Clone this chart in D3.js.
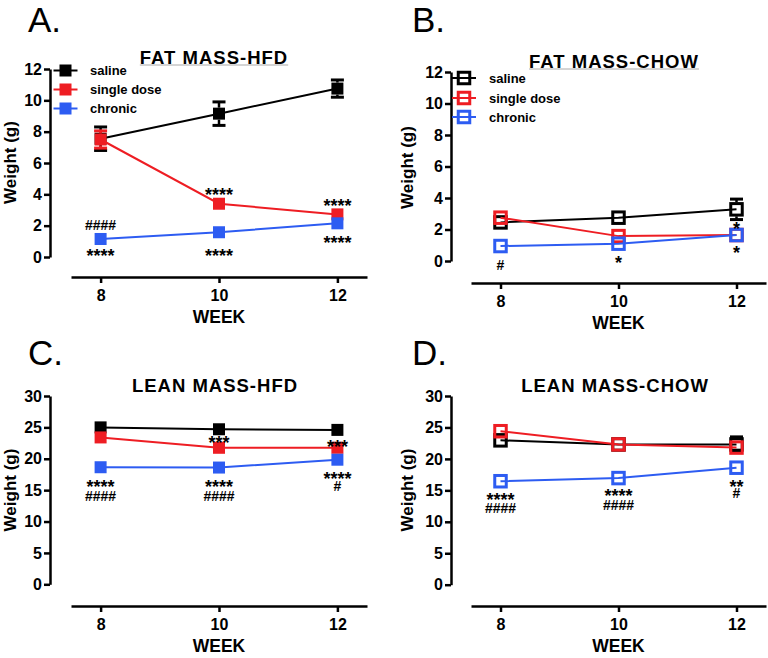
<!DOCTYPE html>
<html><head><meta charset="utf-8">
<script src="https://cdn.jsdelivr.net/npm/d3@7"></script>
<style>body{margin:0;background:#fff}svg{display:block}</style>
</head><body><svg id="c" width="768" height="658"></svg>
<script>
// ---------- DATA ----------
const weeks = [8, 10, 12];
const seriesNames = ["saline", "single dose", "chronic"];
const seriesColors = ["#000000", "#ee1d23", "#2d5cf2"];
const fatTicks = [0, 2, 4, 6, 8, 10, 12];
const leanTicks = [0, 5, 10, 15, 20, 25, 30];
const panelLetters = ["A.", "B.", "C.", "D."];
const panelTitles = ["FAT MASS-HFD", "FAT MASS-CHOW", "LEAN MASS-HFD", "LEAN MASS-CHOW"];
const xLabel = "WEEK";
const yLabel = "Weight (g)";

// A: fat mass, HFD
const fatHfdSaline = [7.55, 9.15, 10.75];
const fatHfdSingle = [7.5, 3.4, 2.72];
const fatHfdChronic = [1.15, 1.58, 2.15];
const fatHfdSalineErr = [0.75, 0.75, 0.55];
const fatHfdSingleErr = [0.55, 0.25, 0.2];
const fatHfdChronicErr = [0.15, 0.15, 0.2];
const fatHfdMarks = [[8, 2.04, "####"], [8, 0.34, "****"], [10, 4.21, "****"], [10, 0.34, "****"], [12, 3.51, "****"], [12, 1.15, "****"]];

// B: fat mass, chow
const fatChowSaline = [2.45, 2.75, 3.28];
const fatChowSingle = [2.75, 1.58, 1.65];
const fatChowChronic = [0.95, 1.1, 1.65];
const fatChowSalineErr = [0.3, 0.3, 0.65];
const fatChowSingleErr = [0.3, 0.2, 0.2];
const fatChowChronicErr = [0.15, 0.2, 0.2];
const fatChowMarks = [[8, -0.25, "#"], [10, 0.13, "*"], [12, 2.29, "*"], [12, 0.76, "*"]];

// C: lean mass, HFD
const leanHfdSaline = [25.0, 24.7, 24.6];
const leanHfdSingle = [23.4, 21.75, 21.75];
const leanHfdChronic = [18.65, 18.6, 19.85];
const leanHfdSalineErr = [0.4, 0.5, 0.5];
const leanHfdSingleErr = [0.6, 0.6, 0.6];
const leanHfdChronicErr = [0.5, 0.5, 0.8];
const leanHfdMarks = [[8, 16.2, "****"], [8, 14.06, "####"], [10, 23.1, "***"], [10, 16.2, "****"], [10, 14.06, "####"], [12, 22.5, "***"], [12, 17.4, "****"], [12, 15.7, "#"]];

// D: lean mass, chow
const leanChowSaline = [22.95, 22.3, 22.3];
const leanChowSingle = [24.4, 22.3, 21.8];
const leanChowChronic = [16.45, 16.95, 18.6];
const leanChowSalineErr = [0.5, 0.4, 1.2];
const leanChowSingleErr = [0.6, 0.5, 0.6];
const leanChowChronicErr = [0.5, 0.5, 0.6];
const leanChowMarks = [[8, 14.15, "****"], [8, 12.2, "####"], [10, 14.8, "****"], [10, 12.67, "####"], [12, 16.2, "**"], [12, 14.6, "#"]];

// ---------- LAYOUT ----------
const FONT = "'Liberation Sans', Arial, Helvetica, sans-serif";
const panels = [
  {letter: panelLetters[0], lx: 28, ly: 32, title: panelTitles[0], tx: 214, ty: 64, underline: true,
   ax: 50, yb: 257, yt: 69, ymax: 12, ticks: fatTicks, x0: 71, x1: 367, xay: 277, ylx: 15.5, yly: 162.5, open: false,
   legend: {mx: 65.5, ys: [70.5, 89.5, 108.5], tx: 90},
   values: [fatHfdSaline, fatHfdSingle, fatHfdChronic], errs: [fatHfdSalineErr, fatHfdSingleErr, fatHfdChronicErr], marks: fatHfdMarks},
  {letter: panelLetters[1], lx: 412, ly: 32, title: panelTitles[1], tx: 614, ty: 68, underline: true,
   ax: 451, yb: 261, yt: 72, ymax: 12, ticks: fatTicks, x0: 471, x1: 766, xay: 283, ylx: 412.5, yly: 167.5, open: true,
   legend: {mx: 464, ys: [78, 98, 117], tx: 489},
   values: [fatChowSaline, fatChowSingle, fatChowChronic], errs: [fatChowSalineErr, fatChowSingleErr, fatChowChronicErr], marks: fatChowMarks},
  {letter: panelLetters[2], lx: 28, ly: 365, title: panelTitles[2], tx: 215, ty: 392, underline: false,
   ax: 50, yb: 584.3, yt: 396, ymax: 30, ticks: leanTicks, x0: 71, x1: 367, xay: 606, ylx: 15.5, yly: 490, open: false,
   legend: null,
   values: [leanHfdSaline, leanHfdSingle, leanHfdChronic], errs: [leanHfdSalineErr, leanHfdSingleErr, leanHfdChronicErr], marks: leanHfdMarks},
  {letter: panelLetters[3], lx: 412, ly: 365, title: panelTitles[3], tx: 615, ty: 392, underline: false,
   ax: 451, yb: 584.7, yt: 396, ymax: 30, ticks: leanTicks, x0: 471, x1: 766, xay: 606, ylx: 412.5, yly: 490, open: true,
   legend: null,
   values: [leanChowSaline, leanChowSingle, leanChowChronic], errs: [leanChowSalineErr, leanChowSingleErr, leanChowChronicErr], marks: leanChowMarks}
];

const svg = d3.select("#c");
svg.append("rect").attr("width", 768).attr("height", 658).attr("fill", "#fff");

function marker(g, cx, cy, color, open) {
  if (open) {
    const s = 11.5;
    g.append("rect").attr("x", cx - s / 2).attr("y", cy - s / 2).attr("width", s).attr("height", s)
      .attr("fill", "none").attr("stroke", color).attr("stroke-width", 3);
  } else {
    const s = 12;
    g.append("rect").attr("x", cx - s / 2).attr("y", cy - s / 2).attr("width", s).attr("height", s)
      .attr("fill", color);
  }
}

function drawPanel(p) {
  const g = svg.append("g");
  const x = d3.scaleLinear().domain([7.5, 12.5]).range([p.x0, p.x1]);
  const y = d3.scaleLinear().domain([0, p.ymax]).range([p.yb, p.yt]);

  // panel letter
  g.append("text").attr("x", p.lx).attr("y", p.ly).text(p.letter)
    .attr("font-family", FONT).attr("font-size", 35).attr("fill", "#000");

  // title
  const t = g.append("text").attr("x", p.tx).attr("y", p.ty).attr("text-anchor", "middle").text(p.title)
    .attr("font-family", FONT).attr("font-weight", "bold").attr("font-size", 18.5).attr("letter-spacing", "1px");
  if (p.underline) {
    const w = t.node().getComputedTextLength();
    g.append("line").attr("x1", p.tx - w / 2).attr("x2", p.tx + w / 2).attr("y1", p.ty + 1).attr("y2", p.ty + 1)
      .attr("stroke", "#aaa").attr("stroke-width", 1);
  }

  // y axis
  const ya = g.append("g").attr("transform", `translate(${p.ax},0)`)
    .call(d3.axisLeft(y).tickValues(p.ticks).tickSize(6).tickSizeOuter(0).tickFormat(d3.format("d")));
  ya.select(".domain").attr("stroke", "#000").attr("stroke-width", 2.5);
  ya.selectAll(".tick line").attr("stroke", "#000").attr("stroke-width", 2.5);
  ya.selectAll(".tick text").attr("x", -8).attr("font-family", FONT).attr("font-weight", "bold")
    .attr("font-size", 16).attr("fill", "#000");

  // x axis (offset)
  const xa = g.append("g").attr("transform", `translate(0,${p.xay})`)
    .call(d3.axisBottom(x).tickValues(weeks).tickSize(6).tickSizeOuter(0).tickFormat(d3.format("d")));
  xa.select(".domain").attr("stroke", "#000").attr("stroke-width", 2.5);
  xa.selectAll(".tick line").attr("stroke", "#000").attr("stroke-width", 2.5);
  xa.selectAll(".tick text").attr("y", 24).attr("dy", null).attr("font-family", FONT).attr("font-weight", "bold")
    .attr("font-size", 16).attr("fill", "#000");

  // axis titles
  g.append("text").attr("x", x(10)).attr("y", p.xay + 46).attr("text-anchor", "middle").text(xLabel)
    .attr("font-family", FONT).attr("font-weight", "bold").attr("font-size", 17.5);
  g.append("text").attr("transform", `translate(${p.ylx},${p.yly}) rotate(-90)`).attr("text-anchor", "middle")
    .text(yLabel).attr("font-family", FONT).attr("font-weight", "bold").attr("font-size", 17);

  // series
  const line = d3.line().x((d, i) => x(weeks[i])).y(d => y(d));
  p.values.forEach((vals, si) => {
    const color = seriesColors[si];
    const sg = g.append("g");
    sg.append("path").attr("d", line(vals)).attr("fill", "none").attr("stroke", color).attr("stroke-width", 2);
    const half = p.open ? 7 : 6;
    vals.forEach((v, i) => {
      const cx = x(weeks[i]), cy = y(v);
      const e = p.errs[si][i];
      const up = y(v + e), dn = y(v - e);
      if (cy - up > half) {
        sg.append("line").attr("x1", cx).attr("x2", cx).attr("y1", cy - half).attr("y2", up).attr("stroke", color).attr("stroke-width", 2.5);
        sg.append("line").attr("x1", cx - 6.5).attr("x2", cx + 6.5).attr("y1", up).attr("y2", up).attr("stroke", color).attr("stroke-width", 3);
      }
      if (dn - cy > half) {
        sg.append("line").attr("x1", cx).attr("x2", cx).attr("y1", cy + half).attr("y2", dn).attr("stroke", color).attr("stroke-width", 2.5);
        sg.append("line").attr("x1", cx - 6.5).attr("x2", cx + 6.5).attr("y1", dn).attr("y2", dn).attr("stroke", color).attr("stroke-width", 3);
      }
      marker(sg, cx, cy, color, p.open);
    });
  });

  // significance marks: stacked marks at the same week that sit close together share one text element
  const items = p.marks.map(([wk, v, txt]) => ({wk, cx: x(wk), cy: y(v), txt}))
    .sort((a, b) => a.wk - b.wk || a.cy - b.cy);
  const groups = [];
  items.forEach(it => {
    const last = groups.length ? groups[groups.length - 1] : null;
    const prev = last ? last[last.length - 1] : null;
    if (prev && prev.wk === it.wk && it.cy - prev.cy < 17) last.push(it);
    else groups.push([it]);
  });
  groups.forEach(grp => {
    const te = g.append("text").attr("text-anchor", "middle").attr("font-family", FONT)
      .attr("font-weight", "bold").attr("fill", "#000");
    grp.forEach(it => {
      const star = it.txt.includes("*");
      te.append("tspan").attr("x", it.cx).attr("y", star ? it.cy + 10 : it.cy + 5)
        .attr("font-size", star ? 18 : 14).text(it.txt);
    });
  });

  // legend
  if (p.legend) {
    const L = p.legend;
    seriesNames.forEach((name, si) => {
      const yy = L.ys[si];
      g.append("line").attr("x1", L.mx - 12).attr("x2", L.mx + 12).attr("y1", yy).attr("y2", yy)
        .attr("stroke", seriesColors[si]).attr("stroke-width", 2);
      marker(g, L.mx, yy, seriesColors[si], p.open);
      g.append("text").attr("x", L.tx).attr("y", yy + 4.6).text(name)
        .attr("font-family", FONT).attr("font-weight", "bold").attr("font-size", 13);
    });
  }
}

panels.forEach(drawPanel);
</script>
</body></html>
